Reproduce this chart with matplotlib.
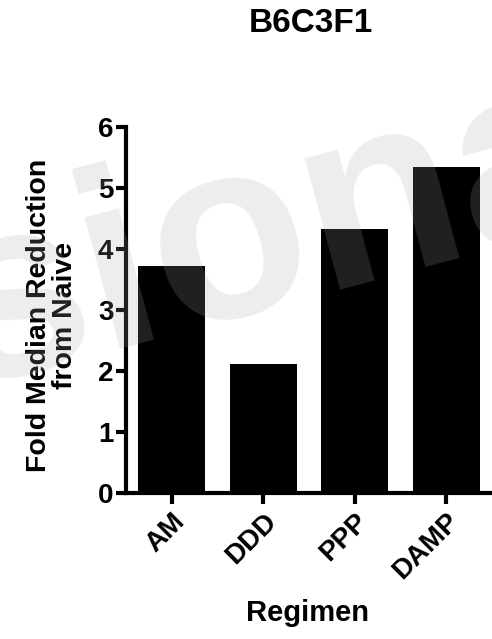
import matplotlib
matplotlib.use('Agg')
import matplotlib.pyplot as plt

plt.rcParams['font.family'] = ['Liberation Sans', 'DejaVu Sans']
plt.rcParams['font.weight'] = 'bold'

# Fold median reduction for each regimen
regimens = ['AM', 'DDD', 'PPP', 'DAMP']
fold_reduction = [3.72, 2.12, 4.32, 5.34]
y_ticks = [0, 1, 2, 3, 4, 5, 6]

fig = plt.figure(figsize=(4.92, 6.39), dpi=100)
ax = fig.add_axes([0.256, 0.2285, 0.744, 0.5728])

positions = range(len(regimens))
ax.bar(positions, fold_reduction, width=0.73, color='black', zorder=1)

ax.set_xlim(-0.5, 3.5)
ax.set_ylim(0, 6)
ax.set_yticks(y_ticks)
ax.set_xticks(list(positions))
ax.set_xticklabels(regimens, rotation=45, ha='right', va='top',
                   rotation_mode='anchor')

for side in ['top', 'right']:
    ax.spines[side].set_visible(False)
for side in ['left', 'bottom']:
    ax.spines[side].set_linewidth(3)

ax.tick_params(axis='y', length=7, width=3, pad=2, labelsize=20)
ax.tick_params(axis='x', length=8, width=3, pad=3, labelsize=20)
for lbl in ax.get_xticklabels() + ax.get_yticklabels():
    lbl.set_fontweight('bold')

ax.set_ylabel('Fold Median Reduction\nfrom Naive', fontsize=20.5,
              fontweight='bold', linespacing=1.0)
ax.yaxis.set_label_coords(-0.13, 0.486)

fig.text(0.632, 1 - 32 / 639, 'B6C3F1', fontsize=24, fontweight='bold',
         ha='center', va='baseline')
fig.text(308 / 492, 1 - 621 / 639, 'Regimen', fontsize=21,
         fontweight='bold', ha='center', va='baseline')

# faint demo-version watermark across the plot
fig.text(-36 / 492, 1 - 388 / 639, 'sional', fontsize=185,
         fontweight='bold', color=(0.66, 0.66, 0.66), alpha=0.2,
         rotation=15, rotation_mode='anchor', ha='left', va='baseline',
         zorder=5)

fig.savefig('out.png', dpi=100)
